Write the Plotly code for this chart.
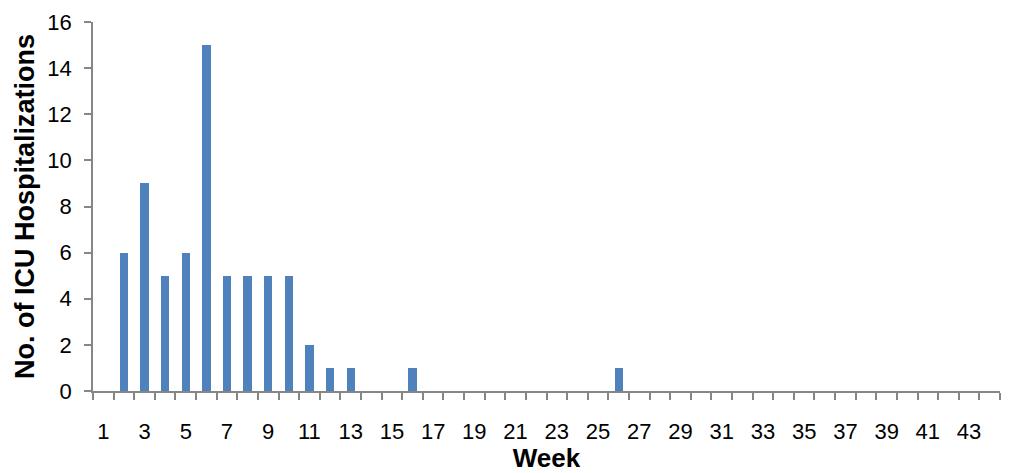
import plotly.graph_objects as go

weeks = list(range(1, 45))
icu = [0, 6, 9, 5, 6, 15, 5, 5, 5, 5, 2, 1, 1, 0, 0, 1, 0, 0, 0, 0, 0, 0,
       0, 0, 0, 1, 0, 0, 0, 0, 0, 0, 0, 0, 0, 0, 0, 0, 0, 0, 0, 0, 0, 0]
tick_weeks = list(range(1, 44, 2))
tick_labels = [str(w) for w in tick_weeks]

fig = go.Figure(go.Bar(x=weeks, y=icu, width=0.4,
                       marker=dict(color="#4F81BD", line=dict(width=0))))

font = "Liberation Sans, Arial, sans-serif"
fig.update_layout(
    width=1010, height=473,
    margin=dict(l=93, r=10, t=22, b=82, autoexpand=False),
    plot_bgcolor="white", paper_bgcolor="white",
    showlegend=False,
    font=dict(family=font, size=22, color="black"),
    bargap=0,
)
fig.update_xaxes(
    range=[0.5, 44.5], tickmode="array", tickvals=tick_weeks, ticktext=tick_labels,
    ticks="", showgrid=False, zeroline=False, automargin=False,
    showline=True, linecolor="#868686", linewidth=1.5,
    tickfont=dict(size=22), ticklabelstandoff=20,
    minor=dict(tickmode="linear", tick0=0.5, dtick=1, ticks="outside", ticklen=7,
               tickcolor="#868686", tickwidth=1.5, showgrid=False),
    title=dict(text="<b>Week</b>", font=dict(size=26), standoff=3),
)
fig.update_yaxes(
    range=[0, 16], dtick=2, ticks="outside", ticklen=7, tickcolor="#868686", tickwidth=1.5,
    showgrid=False, zeroline=False, showline=True, linecolor="#868686", linewidth=1.5,
    automargin=False,
    tickfont=dict(size=22), ticklabelstandoff=8,
    title=dict(text="<b>No. of ICU Hospitalizations</b>", font=dict(size=27), standoff=5),
)

fig.write_html("out.html", post_script="document.body.style.margin='0px';",
               config={"displayModeBar": False})
